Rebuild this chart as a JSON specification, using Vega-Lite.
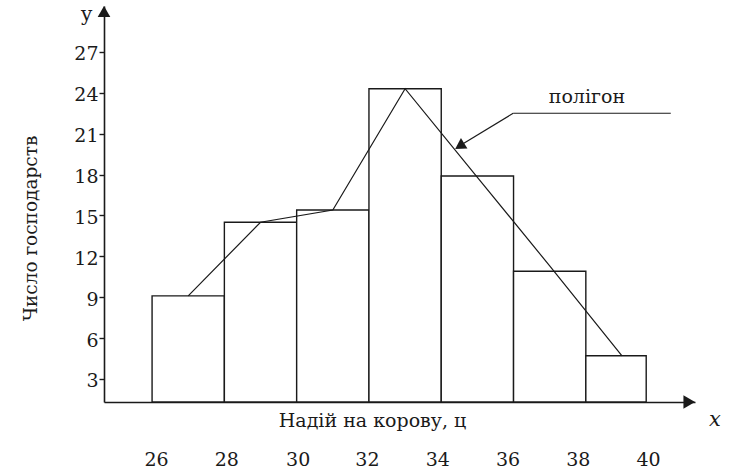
{
  "$schema": "https://vega.github.io/schema/vega-lite/v6.json",
  "width": 591,
  "height": 396,
  "autosize": {"type": "none"},
  "padding": {"left": 104, "top": 6, "right": 45, "bottom": 71},
  "background": "white",
  "config": {"view": {"stroke": null}, "font": "DejaVu Serif"},
  "datasets": {
    "bins": [
      {"from": 26, "to": 28, "count": 9.1},
      {"from": 28, "to": 30, "count": 14.5},
      {"from": 30, "to": 32, "count": 15.4},
      {"from": 32, "to": 34, "count": 24.3},
      {"from": 34, "to": 36, "count": 17.9},
      {"from": 36, "to": 38, "count": 10.9},
      {"from": 38, "to": 39.67, "count": 4.7}
    ],
    "polygon": [
      {"mid": 27, "count": 9.1},
      {"mid": 29, "count": 14.5},
      {"mid": 31, "count": 15.4},
      {"mid": 33, "count": 24.3},
      {"mid": 35, "count": 17.8},
      {"mid": 37, "count": 11.3},
      {"mid": 39, "count": 4.7}
    ]
  },
  "layer": [
    {
      "data": {"name": "bins"},
      "mark": {"type": "rect", "fill": "white", "stroke": "#1a1a1a", "strokeWidth": 1.4},
      "encoding": {
        "x": {
          "field": "from",
          "type": "quantitative",
          "scale": {"domain": [24.67, 41.02], "nice": false, "zero": false},
          "axis": {
            "title": "Надій на корову, ц",
            "values": [26, 28, 30, 32, 34, 36, 38, 40],
            "ticks": false,
            "tickSize": 0,
            "grid": false,
            "labelPadding": 48,
            "labelFont": "DejaVu Serif",
            "labelFontSize": 19,
            "labelColor": "#1a1a1a",
            "labelFlush": false,
            "labelOverlap": false,
            "labelOffset": {
              "condition": [
                {"test": "datum.value == 26", "value": 4},
                {"test": "datum.value == 28", "value": 2},
                {"test": "datum.value == 30", "value": 1},
                {"test": "datum.value == 32", "value": -2},
                {"test": "datum.value == 34", "value": -4},
                {"test": "datum.value == 36", "value": -6},
                {"test": "datum.value == 38", "value": -8}
              ],
              "value": -10
            },
            "domainColor": "#1a1a1a",
            "domainWidth": 1.6,
            "titleX": 268,
            "titleY": 24,
            "titleAlign": "center",
            "titleBaseline": "alphabetic",
            "titleFont": "DejaVu Serif",
            "titleFontSize": 19,
            "titleFontWeight": "normal",
            "titleColor": "#1a1a1a"
          }
        },
        "x2": {"field": "to"},
        "y": {
          "field": "count",
          "type": "quantitative",
          "scale": {"domain": [1.31, 30.37], "nice": false, "zero": false},
          "axis": {
            "title": "Число господарств",
            "values": [3, 6, 9, 12, 15, 18, 21, 24, 27],
            "grid": false,
            "tickSize": 5,
            "tickColor": "#1a1a1a",
            "tickWidth": 1.4,
            "labelPadding": 1,
            "labelOffset": 2,
            "labelFont": "DejaVu Serif",
            "labelFontSize": 19,
            "labelColor": "#1a1a1a",
            "labelFlush": false,
            "labelOverlap": false,
            "domainColor": "#1a1a1a",
            "domainWidth": 1.6,
            "titleX": -74,
            "titleY": 222,
            "titleAngle": -90,
            "titleAlign": "center",
            "titleBaseline": "middle",
            "titleFont": "DejaVu Serif",
            "titleFontSize": 18.5,
            "titleFontWeight": "normal",
            "titleColor": "#1a1a1a"
          }
        },
        "y2": {"datum": 1.31}
      }
    },
    {
      "data": {"name": "polygon"},
      "mark": {"type": "line", "color": "#1a1a1a", "strokeWidth": 1.2},
      "encoding": {
        "x": {"field": "mid", "type": "quantitative"},
        "y": {"field": "count", "type": "quantitative"}
      }
    },
    {
      "data": {"values": [{}]},
      "mark": {"type": "point", "shape": "triangle-up", "filled": true, "color": "#1a1a1a", "opacity": 1, "size": 160},
      "encoding": {"x": {"datum": 24.67}, "y": {"datum": 29.96}}
    },
    {
      "data": {"values": [{}]},
      "mark": {"type": "point", "shape": "triangle-right", "filled": true, "color": "#1a1a1a", "opacity": 1, "size": 180},
      "encoding": {"x": {"datum": 40.86}, "y": {"datum": 1.31}}
    },
    {
      "data": {"values": [{}]},
      "mark": {"type": "rule", "color": "#1a1a1a", "strokeWidth": 1.2},
      "encoding": {"x": {"datum": 35.99}, "y": {"datum": 22.5}, "x2": {"datum": 40.35}, "y2": {"datum": 22.5}}
    },
    {
      "data": {"values": [{}]},
      "mark": {"type": "rule", "color": "#1a1a1a", "strokeWidth": 1.2},
      "encoding": {"x": {"datum": 35.99}, "y": {"datum": 22.5}, "x2": {"datum": 34.5}, "y2": {"datum": 20.1}}
    },
    {
      "data": {"values": [{}]},
      "mark": {"type": "point", "shape": "triangle-up", "filled": true, "color": "#1a1a1a", "opacity": 1, "size": 150, "angle": 238},
      "encoding": {"x": {"datum": 34.51}, "y": {"datum": 20.09}}
    },
    {
      "data": {"values": [{}]},
      "mark": {"type": "text", "text": "полігон", "font": "DejaVu Serif", "fontSize": 19, "color": "#1a1a1a", "align": "center", "baseline": "alphabetic"},
      "encoding": {"x": {"datum": 38.03}, "y": {"datum": 23.23}}
    },
    {
      "data": {"values": [{}]},
      "mark": {"type": "text", "text": "x", "font": "DejaVu Serif", "fontSize": 21, "fontStyle": "italic", "color": "#1a1a1a", "align": "center", "baseline": "alphabetic"},
      "encoding": {"x": {"datum": 41.57}, "y": {"datum": -0.45}}
    },
    {
      "data": {"values": [{}]},
      "mark": {"type": "text", "text": "y", "font": "DejaVu Serif", "fontSize": 20, "color": "#1a1a1a", "align": "center", "baseline": "alphabetic"},
      "encoding": {"x": {"datum": 24.19}, "y": {"datum": 29.27}}
    }
  ]
}
